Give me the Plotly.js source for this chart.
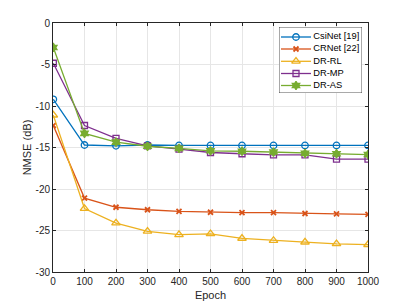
<!DOCTYPE html>
<html><head><meta charset="utf-8">
<script src="https://cdn.plot.ly/plotly-3.0.1.min.js"></script>
<style>html,body{margin:0;padding:0;background:#fff}#c{width:407px;height:305px}</style>
</head><body><div id="c"></div>
<script>
const epochs = [1, 100, 200, 300, 400, 500, 600, 700, 800, 900, 1000];
const csinet = [-9.2, -14.7, -14.8, -14.7, -14.75, -14.75, -14.75, -14.75, -14.75, -14.75, -14.75];
const crnet = [-12.35, -21.1, -22.2, -22.5, -22.7, -22.8, -22.85, -22.85, -22.95, -23.0, -23.05];
const drrl = [-11.1, -22.35, -24.1, -25.1, -25.5, -25.4, -25.95, -26.2, -26.4, -26.6, -26.7];
const drmp = [-4.85, -12.35, -13.9, -14.8, -15.2, -15.6, -15.75, -15.9, -15.9, -16.4, -16.4];
const dras = [-2.95, -13.3, -14.35, -14.85, -15.1, -15.4, -15.45, -15.55, -15.7, -15.75, -15.85];
const names = ['CsiNet [19]', 'CRNet [22]', 'DR-RL', 'DR-MP', 'DR-AS'];
const xTicks = [0, 100, 200, 300, 400, 500, 600, 700, 800, 900, 1000];
const yTicks = [0, -5, -10, -15, -20, -25, -30];

const colors = ['#0072BD', '#D95319', '#EDB120', '#7E2F8E', '#77AC30'];
const symbols = ['circle-open', 'x-thin-open', 'triangle-up-open', 'square-open', 'hexagram'];
const sizes = [6.5, 5, 7.5, 6, 6.5];
const series = [csinet, crnet, drrl, drmp, dras];
const FONT = 'Liberation Sans, Arial, Helvetica, sans-serif';

function mk(i) {
  return {symbol: symbols[i], size: sizes[i], color: colors[i],
          line: {color: colors[i], width: i === 1 ? 1.8 : 1.3}};
}

const traces = series.map((s, i) => ({
  x: epochs, y: s, name: names[i], type: 'scatter', mode: 'lines+markers',
  line: {color: colors[i], width: 1.3}, marker: mk(i), showlegend: false
}));

// custom compact legend drawn in its own small axis box (pixel-like units)
const legRows = [37, 49, 61.3, 73.5, 85.5];
names.forEach((n, i) => {
  traces.push({x: [281, 311], y: [legRows[i], legRows[i]], xaxis: 'x2', yaxis: 'y2',
    mode: 'lines', line: {color: colors[i], width: 1.3}, showlegend: false, hoverinfo: 'skip'});
  traces.push({x: [296], y: [legRows[i]], xaxis: 'x2', yaxis: 'y2',
    mode: 'markers', marker: mk(i), showlegend: false, hoverinfo: 'skip', cliponaxis: false});
  traces.push({x: [313.3], y: [legRows[i]], xaxis: 'x2', yaxis: 'y2',
    mode: 'text', text: [n], textposition: 'middle right', cliponaxis: false,
    textfont: {family: FONT, size: 9.3, color: '#000'}, showlegend: false, hoverinfo: 'skip'});
});

const axisCommon = {
  showline: true, mirror: 'ticks', linecolor: '#262626', linewidth: 1,
  ticks: 'inside', ticklen: 3, tickcolor: '#262626',
  showgrid: true, gridcolor: '#e6e6e6', gridwidth: 1, zeroline: false,
  tickfont: {family: FONT, size: 10, color: '#262626'}
};

const layout = {
  width: 407, height: 305,
  margin: {l: 53, r: 39, t: 23, b: 33},
  paper_bgcolor: '#fff', plot_bgcolor: '#fff',
  font: {family: FONT, color: '#262626'},
  showlegend: false,
  xaxis: Object.assign({}, axisCommon, {
    range: [0, 1000], tickvals: xTicks, ticktext: xTicks.map(String),
    title: {text: 'Epoch', font: {size: 11, color: '#262626'}, standoff: 5}
  }),
  yaxis: Object.assign({}, axisCommon, {
    range: [-30, 0], tickvals: yTicks, ticktext: yTicks.map(String),
    title: {text: 'NMSE (dB)', font: {size: 11, color: '#262626'}, standoff: 1}
  }),
  xaxis2: {domain: [(279 - 53) / 315, (362 - 53) / 315], range: [279, 362], visible: false,
           anchor: 'y2', fixedrange: true},
  yaxis2: {domain: [(272 - 93) / 249, (272 - 27) / 249], range: [93, 27], visible: false,
           anchor: 'x2', fixedrange: true},
  shapes: [{type: 'rect', xref: 'x2', yref: 'y2', x0: 279, x1: 362, y0: 27, y1: 93,
            fillcolor: '#ffffff', line: {color: '#262626', width: 0.8}, layer: 'below'}]
};

Plotly.newPlot('c', traces, layout, {displayModeBar: false, staticPlot: true});
</script>
</body></html>
